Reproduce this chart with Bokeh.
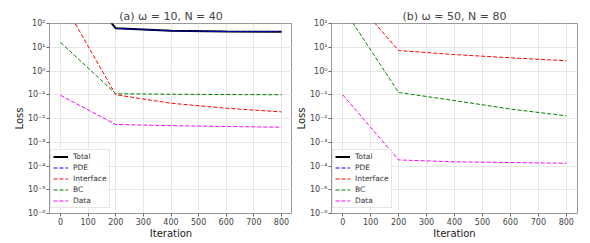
from bokeh.plotting import figure
from bokeh.layouts import row
from bokeh.models import FixedTicker, CustomJSTickFormatter, Legend, LegendItem, Range1d
from bokeh.embed import file_html
from bokeh.resources import INLINE

iterations = [0, 200, 400, 600, 800]

# panel (a)
a_pde = [43800, 62.7, 48.9, 45.9, 44.9]
a_interface = [1200, 0.1, 0.044, 0.027, 0.019]
a_bc = [16, 0.11, 0.105, 0.102, 0.1]
a_data = [0.095, 0.0056, 0.005, 0.0046, 0.0043]
a_total = [p + i + b + d for p, i, b, d in zip(a_pde, a_interface, a_bc, a_data)]

# panel (b)
b_pde = [500000, 2500, 1800, 1400, 1200]
b_interface = [3700, 7.3, 4.9, 3.6, 2.7]
b_bc = [480, 0.125, 0.057, 0.025, 0.013]
b_data = [0.1, 1.8e-4, 1.5e-4, 1.4e-4, 1.3e-4]
b_total = [p + i + b + d for p, i, b, d in zip(b_pde, b_interface, b_bc, b_data)]

titles = ["(a) \u03c9 = 10, N = 40", "(b) \u03c9 = 50, N = 80"]
x_ticks = [0, 100, 200, 300, 400, 500, 600, 700, 800]
y_ticks = [1e-6, 1e-5, 1e-4, 1e-3, 1e-2, 1e-1, 1e0, 1e1, 1e2]

FONT = "DejaVu Sans"

sup_js = """
const sup = {'-':'\u207b','0':'\u2070','1':'\u00b9','2':'\u00b2','3':'\u00b3','4':'\u2074','5':'\u2075','6':'\u2076','7':'\u2077','8':'\u2078','9':'\u2079'};
const e = Math.round(Math.log10(tick));
return '10' + String(e).split('').map(c => sup[c]).join('');
"""


def make_panel(title, total, pde, interface, bc, data, fw, bl, br):
    p = figure(frame_width=fw, frame_height=190, y_axis_type="log",
               x_range=Range1d(-40, 840), y_range=Range1d(1e-6, 1e2),
               output_backend="svg", toolbar_location=None,
               min_border_left=bl, min_border_right=br, min_border_top=23, min_border_bottom=27)
    p.title.text = title
    p.title.text_font = FONT
    p.title.text_font_size = "11px"
    p.title.text_font_style = "normal"
    p.title.align = "center"
    p.title.offset = 0
    p.title.standoff = 2
    p.outline_line_color = "#999999"
    p.outline_line_width = 1
    p.background_fill_color = "white"
    p.border_fill_color = "white"

    p.xaxis.ticker = FixedTicker(ticks=x_ticks)
    p.yaxis.ticker = FixedTicker(ticks=y_ticks, minor_ticks=[])
    p.yaxis.formatter = CustomJSTickFormatter(code=sup_js)
    for ax in (p.xaxis, p.yaxis):
        ax.axis_line_color = None
        ax.major_tick_line_color = "#666666"
        ax.major_tick_out = 3
        ax.major_tick_in = 0
        ax.minor_tick_line_color = None
        ax.major_label_text_font = FONT
        ax.major_label_text_font_size = "8px"
        ax.major_label_text_color = "#444444"
        ax.major_label_standoff = 1
        ax.axis_label_text_font = FONT
        ax.axis_label_text_font_size = "10px"
        ax.axis_label_text_font_style = "normal"
        ax.axis_label_text_color = "#222222"
        ax.axis_label_standoff = 0
    p.xaxis.axis_label = "Iteration"
    p.yaxis.axis_label = "Loss"
    p.grid.grid_line_color = "#e6e6e6"
    p.grid.grid_line_width = 1

    r_total = p.line(iterations, total, line_color="black", line_width=2)
    r_pde = p.line(iterations, pde, line_color="blue", line_width=1, line_dash="4 2")
    r_int = p.line(iterations, interface, line_color="red", line_width=1, line_dash="4 2")
    r_bc = p.line(iterations, bc, line_color="green", line_width=1, line_dash="4 2")
    r_data = p.line(iterations, data, line_color="magenta", line_width=1, line_dash="4 2")

    legend = Legend(items=[
        LegendItem(label="Total", renderers=[r_total]),
        LegendItem(label="PDE", renderers=[r_pde]),
        LegendItem(label="Interface", renderers=[r_int]),
        LegendItem(label="BC", renderers=[r_bc]),
        LegendItem(label="Data", renderers=[r_data]),
    ], location=(1, 5))
    legend.label_text_font = FONT
    legend.label_text_font_size = "7.5px"
    legend.label_text_color = "#333333"
    legend.label_height = 9
    legend.glyph_height = 9
    legend.glyph_width = 15
    legend.spacing = 2
    legend.padding = 2
    legend.margin = 0
    legend.label_standoff = 5
    legend.border_line_color = "#cccccc"
    legend.background_fill_alpha = 0.8
    p.add_layout(legend)
    return p


p1 = make_panel(titles[0], a_total, a_pde, a_interface, a_bc, a_data, 243, 49, 0)
p2 = make_panel(titles[1], b_total, b_pde, b_interface, b_bc, b_data, 246, 38, 6)
layout = row(p1, p2)

open("out.html", "w").write(file_html(layout, INLINE))
